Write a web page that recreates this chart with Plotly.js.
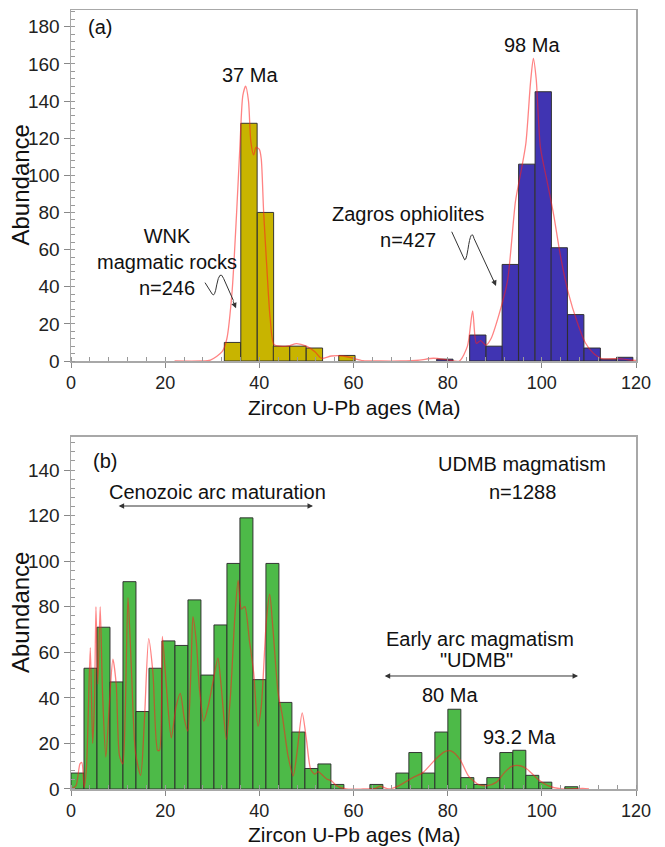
<!DOCTYPE html>
<html>
<head>
<meta charset="utf-8">
<script src="https://cdn.plot.ly/plotly-3.0.1.min.js"></script>
<style>html,body{margin:0;padding:0;background:#fff;}#chart{width:665px;height:847px;}</style>
</head>
<body>
<div id="chart"></div>
<script>
// ---------- Panel (a) data ----------
const wnkAges = [34.3, 37.8, 41.3, 44.7, 48.2, 51.7, 58.6];
const wnkCounts = [10, 128, 80, 8, 8, 7, 3];
const zagrosAges = [79.4, 86.4, 89.9, 93.3, 96.8, 100.3, 103.7, 107.2, 110.7, 114.1, 117.6];
const zagrosCounts = [1, 14, 8, 52, 106, 145, 61, 25, 7, 1, 2];
const binWidthA = 3.47;
const kdeAx = [22, 27.5, 29.6, 32.1, 33.1, 34.2, 35.2, 35.9, 36.5, 37.1, 37.7, 38.2, 38.8, 39.3, 40.0, 40.4, 40.9, 41.6, 42.3, 43.1, 44.4, 46.2, 47.9, 50.0, 51.8, 53.2, 55.3, 57.8, 59.9, 62.0, 65.5, 70, 74, 77, 80.3, 82.5, 84.2, 85.3, 86.1, 87.0, 88.1, 89.2, 90.9, 92.7, 94.4, 95.5, 96.6, 97.6, 98.2, 98.8, 99.7, 101.1, 102.5, 104.0, 105.7, 107.5, 109.2, 111.0, 112.7, 116.3, 119.1, 120];
const kdeAy = [0, 0, 0.5, 5, 12, 37, 81, 117, 143, 148, 140, 118, 111, 115, 114, 109, 81, 50, 23, 9, 8, 8.2, 9.4, 8, 5, 1.5, 2.7, 2.7, 1.5, 0.2, 0, 0, 0.5, 1.5, 0.5, 0, 8, 27, 9.5, 11, 8.5, 12, 25, 43, 86, 101, 117, 150, 163, 152, 115, 97, 79, 56, 36, 21, 10, 4, 1.3, 1.3, 0.4, 0.3];

// ---------- Panel (b) data ----------
const udmbAges = [1.38, 4.14, 6.9, 9.66, 12.42, 15.18, 17.94, 20.7, 23.46, 26.22, 28.98, 31.74, 34.5, 37.26, 40.02, 42.78, 45.54, 48.3, 51.06, 53.82, 56.58, 64.86, 70.38, 73.14, 75.9, 78.66, 81.42, 84.18, 86.94, 89.7, 92.46, 95.22, 97.98, 100.74, 106.26];
const udmbCounts = [7, 53, 71, 47, 91, 34, 53, 65, 63, 83, 50, 72, 99, 119, 48, 99, 38, 25, 9, 11, 2, 2, 7, 16, 7, 25, 35, 5, 2, 5, 16, 17, 6, 3, 1];
const binWidthB = 2.76;
const kdeBx = [0, 1.06, 1.9, 2.3, 2.8, 3.3, 4.1, 4.6, 5.0, 5.3, 5.7, 6.2, 6.7, 7.4, 8.2, 8.9, 9.6, 10.3, 11.0, 11.5, 12.1, 12.8, 13.7, 14.8, 15.6, 16.5, 17.4, 18.4, 18.8, 19.4, 20.2, 21.3, 22.3, 23.2, 24.1, 24.8, 25.5, 25.9, 26.6, 27.3, 28.2, 29.1, 30.1, 31.2, 31.9, 33.0, 33.9, 34.8, 35.5, 36.2, 36.9, 37.9, 38.8, 39.7, 40.4, 41.5, 42.2, 42.9, 44.0, 44.9, 46.1, 47.2, 48.0, 49.1, 50.0, 50.9, 51.8, 52.5, 53.2, 54.3, 55.3, 56.4, 58.5, 62, 64.6, 65.7, 67.5, 69.7, 72.6, 74.8, 77.4, 79.3, 80.7, 82.6, 84.4, 86.6, 88.4, 90.3, 92.1, 93.6, 95.4, 96.9, 99.1, 101.3, 104.3, 108.7, 110];
const kdeBy = [0, 1.5, 11, 11.6, 0.7, 10, 62, 20, 39, 80, 46, 80, 42, 14, 39, 57, 46, 14.5, 11, 32, 84, 54, 16, 6, 30.5, 66, 51, 17, 17, 67, 46.5, 22.5, 36, 42, 30.5, 25.4, 54, 75.6, 65, 43.6, 29.8, 36, 46.5, 57.4, 45, 21.8, 42, 75.6, 91.6, 79, 80, 65, 51, 27.6, 36, 74, 85.5, 70, 42, 32, 14.5, 5.8, 16, 33.4, 21.8, 8.7, 6.5, 7.6, 6.5, 4.4, 3.6, 1.5, 0, 0, 0.3, 1.2, 0, 1.5, 5, 7.3, 13, 16.3, 16.7, 13, 5.8, 1.9, 1.5, 2.9, 7.3, 9.9, 10.2, 8.7, 4.4, 1.5, 0, 0.3, 0];

const tickVals = [0, 20, 40, 60, 80, 100, 120];

const barLine = {color: 'rgba(45,45,45,0.95)', width: 1};
const kdeLine = {color: 'rgba(255,30,30,0.55)', width: 1.3, shape: 'spline', smoothing: 0.7};

const traces = [
  {type: 'bar', x: wnkAges, y: wnkCounts, width: binWidthA, marker: {color: '#c8b400', line: barLine}, xaxis: 'x', yaxis: 'y'},
  {type: 'bar', x: zagrosAges, y: zagrosCounts, width: binWidthA, marker: {color: '#4034b2', line: barLine}, xaxis: 'x', yaxis: 'y'},
  {type: 'scatter', mode: 'lines', x: kdeAx, y: kdeAy, line: kdeLine, xaxis: 'x', yaxis: 'y'},
  {type: 'bar', x: udmbAges, y: udmbCounts, width: binWidthB, marker: {color: '#4dba48', line: barLine}, xaxis: 'x2', yaxis: 'y2'},
  {type: 'scatter', mode: 'lines', x: kdeBx, y: kdeBy, line: kdeLine, xaxis: 'x2', yaxis: 'y2'}
];

const fontFam = 'Liberation Sans, Arial, Helvetica, sans-serif';
function axisBase(extra) {
  return Object.assign({
    showline: true, mirror: true, linecolor: '#a8a8a8', linewidth: 1.5,
    ticks: 'outside', ticklen: 6, tickwidth: 1, tickcolor: '#888',
    minor: {dtick: 4, ticks: 'inside', ticklen: 4, tickcolor: '#999', tickwidth: 1},
    showgrid: false, zeroline: false,
    tickfont: {family: fontFam, size: 19, color: '#222'}
  }, extra);
}
const xTickFont = {family: fontFam, size: 18, color: '#222'};

const annFont = {family: fontFam, size: 20, color: '#111'};
function txt(xref, yref, x, y, text, size) {
  return {xref: xref, yref: yref, x: x, y: y, text: text, showarrow: false,
          font: Object.assign({}, annFont, size ? {size: size} : {}), xanchor: 'center', yanchor: 'middle'};
}
function yTitleAnn(yPaper) {
  return {xref: 'paper', yref: 'paper', x: (21 - 71) / 565, y: yPaper, text: 'Abundance', showarrow: false,
          textangle: -90, xanchor: 'center', yanchor: 'middle', font: {family: fontFam, size: 24, color: '#111'}};
}
function xTitleAnn(yPaper) {
  return {xref: 'paper', yref: 'paper', x: 0.5, y: yPaper, text: 'Zircon U-Pb ages (Ma)', showarrow: false,
          xanchor: 'center', yanchor: 'middle', font: {family: fontFam, size: 21, color: '#111'}};
}
function dblArrow(x0, x1, y) {
  return {xref: 'x2', yref: 'y2', axref: 'x2', ayref: 'y2', x: x1, y: y, ax: x0, ay: y,
          text: '', showarrow: true, arrowside: 'end+start', arrowhead: 2, arrowsize: 1.1, arrowwidth: 1, arrowcolor: '#333'};
}
function tipArrow(x0, y0, x1, y1) {
  return {xref: 'x', yref: 'y', axref: 'x', ayref: 'y', x: x1, y: y1, ax: x0, ay: y0,
          text: '', showarrow: true, arrowhead: 2, arrowsize: 1.1, arrowwidth: 1, arrowcolor: '#333'};
}

const domA = [0.5494, 1];
const domB = [0, 0.4519];

const layout = {
  width: 665, height: 847,
  margin: {l: 71, r: 29, t: 10, b: 58},
  paper_bgcolor: '#fff', plot_bgcolor: '#fff',
  showlegend: false, bargap: 0, barmode: 'overlay',
  font: {family: fontFam, size: 19, color: '#222'},
  xaxis: axisBase({domain: [0, 1], anchor: 'y', range: [0, 120], tickvals: tickVals, ticklen: 5, tickfont: xTickFont}),
  yaxis: axisBase({domain: domA, anchor: 'x', range: [0, 189], dtick: 20}),
  xaxis2: axisBase({domain: [0, 1], anchor: 'y2', range: [0, 120], tickvals: tickVals, ticklen: 5, tickfont: xTickFont}),
  yaxis2: axisBase({domain: domB, anchor: 'x2', range: [0, 154.5], dtick: 20}),
  annotations: [
    yTitleAnn((domA[0] + domA[1]) / 2),
    yTitleAnn((domB[0] + domB[1]) / 2),
    xTitleAnn((789 - 407) / 779),
    xTitleAnn((789 - 834) / 779),
    txt('x', 'y', 6.2, 180, '(a)', 20),
    txt('x', 'y', 38.0, 154, '37 Ma'),
    txt('x', 'y', 97.9, 170, '98 Ma'),
    txt('x', 'y', 20.3, 53.5, 'WNK<br>magmatic rocks<br>n=246'),
    txt('x', 'y', 71.5, 72, 'Zagros ophiolites<br>n=427'),
    tipArrow(34.3, 33, 35.05, 28.4),
    tipArrow(89.6, 44.5, 90.27, 40.4),
    txt('x2', 'y2', 7.3, 144, '(b)', 20),
    txt('x2', 'y2', 95.8, 142.7, 'UDMB magmatism', 20),
    txt('x2', 'y2', 95.8, 130.4, 'n=1288', 20),
    txt('x2', 'y2', 31.1, 130.5, 'Cenozoic arc maturation'),
    dblArrow(9.8, 51.4, 124.2),
    txt('x2', 'y2', 86.8, 65.8, 'Early arc magmatism'),
    txt('x2', 'y2', 86.1, 56.6, '"UDMB"'),
    dblArrow(66.3, 107.7, 49.6),
    txt('x2', 'y2', 80.5, 41.3, '80 Ma'),
    txt('x2', 'y2', 95.2, 23.0, '93.2 Ma')
  ],
  shapes: [
    {type: 'path', xref: 'x', yref: 'y', path: 'M 28.46,42.2 L 30.0,36.0 Q 30.5,34.0 30.95,41 Q 31.6,49.5 32.4,44.5 L 34.5,32.5',
     line: {color: '#333', width: 1}},
    {type: 'path', xref: 'x', yref: 'y', path: 'M 80.86,69.6 L 83.4,55.5 Q 83.8,52 84.3,60 Q 85.0,72 85.6,66 L 89.8,43',
     line: {color: '#333', width: 1}}
  ]
};

Plotly.newPlot('chart', traces, layout, {displayModeBar: false, staticPlot: true});
</script>
</body>
</html>
